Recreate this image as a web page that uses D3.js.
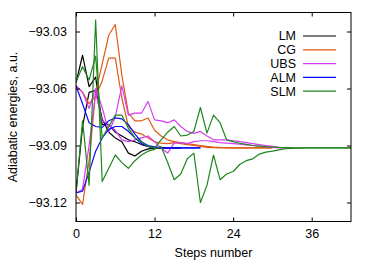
<!DOCTYPE html>
<html>
<head>
<meta charset="utf-8" />
<title>adiabatic energies</title>
<script src="https://cdn.jsdelivr.net/npm/d3@7"></script>
<style>
  body { margin: 0; background: #fff; }
  text { font-family: "Liberation Sans", Arial, sans-serif; font-size: 12.5px; fill: #000; }
</style>
</head>
<body>
<svg width="374" height="262"></svg>
<script>
// each method gives two adiabatic states, index = step number
var lmUpper = [-93.057, -93.0425, -93.059, -93.054, -93.079, -93.079, -93.083, -93.085, -93.087, -93.088, -93.0895, -93.0905, -93.0911, -93.0913, -93.0913, -93.0913, -93.0913];
var lmLower = [-93.115, -93.080, -93.062, -93.061, -93.076, -93.083, -93.086, -93.088, -93.094, -93.0955, -93.093, -93.0918, -93.0914, -93.0913, -93.0913, -93.0913, -93.0913];

var cgUpper = [-93.0585, -93.062, -93.068, -93.064, -93.056, -93.044, -93.044, -93.065, -93.080, -93.083, -93.084, -93.086, -93.088, -93.0888, -93.089, -93.0885, -93.089, -93.0895, -93.090, -93.0905, -93.091, -93.0911, -93.0912, -93.0912, -93.0913, -93.0913, -93.0913, -93.0913, -93.0913, -93.0913, -93.0913];
var cgLower = [-93.116, -93.121, -93.098, -93.062, -93.047, -93.032, -93.0263, -93.053, -93.073, -93.077, -93.077, -93.0755, -93.082, -93.085, -93.087, -93.088, -93.0885, -93.089, -93.0895, -93.090, -93.0905, -93.0908, -93.091, -93.0911, -93.0912, -93.0913, -93.0913, -93.0913, -93.0913, -93.0913, -93.0913];

var ubsUpper = [-93.0585, -93.062, -93.0705, -93.060, -93.070, -93.083, -93.075, -93.0586, -93.074, -93.073, -93.073, -93.0668, -93.0765, -93.077, -93.078, -93.0765, -93.080, -93.0826, -93.0836, -93.0826, -93.085, -93.087, -93.087, -93.087, -93.0875, -93.088, -93.0885, -93.089, -93.0895, -93.090, -93.0905, -93.091, -93.0912, -93.0913];
var ubsLower = [-93.115, -93.113, -93.090, -93.062, -93.077, -93.079, -93.082, -93.087, -93.088, -93.087, -93.086, -93.085, -93.088, -93.0915, -93.094, -93.0886, -93.0885, -93.089, -93.088, -93.0875, -93.0875, -93.088, -93.0885, -93.0888, -93.089, -93.0893, -93.0897, -93.090, -93.0904, -93.0907, -93.091, -93.0912, -93.0913, -93.0913];

var almUpper = [-93.0585, -93.068, -93.078, -93.080, -93.0805, -93.077, -93.0755, -93.076, -93.079, -93.084, -93.088, -93.090, -93.0907, -93.0911, -93.0913, -93.0913, -93.0913, -93.0913, -93.0913, -93.0913];
var almLower = [-93.115, -93.114, -93.104, -93.093, -93.086, -93.0815, -93.080, -93.080, -93.0825, -93.086, -93.089, -93.0905, -93.0911, -93.0913, -93.0913, -93.0913, -93.0913, -93.0913, -93.0913, -93.0913];

var slmUpper = [-93.0565, -93.0485, -93.0555, -93.043, -93.086, -93.080, -93.074, -93.074, -93.081, -93.086, -93.088, -93.0905, -93.0914, -93.087, -93.083, -93.080, -93.085, -93.0845, -93.0826, -93.070, -93.0835, -93.074, -93.078, -93.087, -93.088, -93.0888, -93.0894, -93.090, -93.0903, -93.0906, -93.0908, -93.091, -93.0911, -93.0912, -93.0913, -93.0913, -93.0913, -93.0913, -93.0913, -93.0913, -93.0913, -93.0913, -93.0913];
var slmLower = [-93.115, -93.077, -93.111, -93.024, -93.109, -93.102, -93.095, -93.099, -93.102, -93.098, -93.095, -93.093, -93.092, -93.0905, -93.099, -93.108, -93.105, -93.097, -93.094, -93.120, -93.111, -93.095, -93.108, -93.105, -93.1037, -93.100, -93.098, -93.097, -93.0945, -93.0935, -93.093, -93.0923, -93.0917, -93.0915, -93.0914, -93.0913, -93.0913, -93.0913, -93.0913, -93.0913, -93.0913, -93.0913, -93.0913];

var methods = ["LM", "CG", "UBS", "ALM", "SLM"];
var colors = ["#000000", "#dd5a16", "#d63cf5", "#0a0aff", "#1f861f"];
var states = [[lmUpper, lmLower], [cgUpper, cgLower], [ubsUpper, ubsLower], [almUpper, almLower], [slmUpper, slmLower]];

var xTicks = [0, 12, 24, 36];
var yTicks = [-93.03, -93.06, -93.09, -93.12];

var svg = d3.select("svg");
var marge = {top: 12.5, left: 76, right: 23, bottom: 40.5};
var w = 374 - marge.left - marge.right;
var h = 262 - marge.top - marge.bottom;

var x = d3.scaleLinear().domain([0, 42]).range([0, w]);
var y = d3.scaleLinear().domain([-93.13, -93.02]).range([h, 0]);

var g = svg.append("g").attr("transform", "translate(" + marge.left + "," + marge.top + ")");

g.append("clipPath").attr("id", "clip")
  .append("rect").attr("width", w).attr("height", h);

var line = d3.line().x((d, i) => x(i)).y(d => y(d));

var plot = g.append("g").attr("clip-path", "url(#clip)");
states.forEach(function (pair, k) {
  pair.forEach(function (arr) {
    plot.append("path")
      .attr("d", line(arr))
      .attr("fill", "none")
      .attr("stroke", colors[k])
      .attr("stroke-width", 1.2)
      .attr("stroke-linejoin", "round");
  });
});

// axes, ticks pointing inward like gnuplot
var fmt = d3.format(".2f");
g.append("g").attr("transform", "translate(0," + h + ")")
  .call(d3.axisBottom(x).tickValues(xTicks).tickSizeInner(-4).tickSizeOuter(0).tickPadding(8));
g.append("g")
  .call(d3.axisTop(x).tickValues(xTicks).tickSizeInner(-4).tickSizeOuter(0).tickFormat(""));
g.append("g")
  .call(d3.axisLeft(y).tickValues(yTicks).tickSizeInner(-4).tickSizeOuter(0).tickPadding(9).tickFormat(fmt));
g.append("g").attr("transform", "translate(" + w + ",0)")
  .call(d3.axisRight(y).tickValues(yTicks).tickSizeInner(-4).tickSizeOuter(0).tickFormat(""));

g.selectAll(".domain").remove();
g.selectAll(".tick line").attr("stroke", "#000");
g.selectAll(".tick text").attr("font-size", null).attr("font-family", null);

g.append("rect").attr("width", w).attr("height", h)
  .attr("fill", "none").attr("stroke", "#000").attr("stroke-width", 1);

// legend
var leg = g.append("g");
methods.forEach(function (name, i) {
  var ly = 23.5 + i * 13.8;
  leg.append("text").attr("x", 220).attr("y", ly).attr("dy", "0.35em")
    .attr("text-anchor", "end").text(name);
  leg.append("line").attr("x1", 227).attr("x2", 260).attr("y1", ly).attr("y2", ly)
    .attr("stroke", colors[i]).attr("stroke-width", 1.2);
});

// axis titles
svg.append("text").attr("x", marge.left + w / 2).attr("y", 257)
  .attr("text-anchor", "middle").text("Steps number");
svg.append("text").attr("transform", "translate(17," + (marge.top + h / 2) + ") rotate(-90)")
  .attr("text-anchor", "middle").text("Adiabatic energies, a.u.");
</script>
</body>
</html>
